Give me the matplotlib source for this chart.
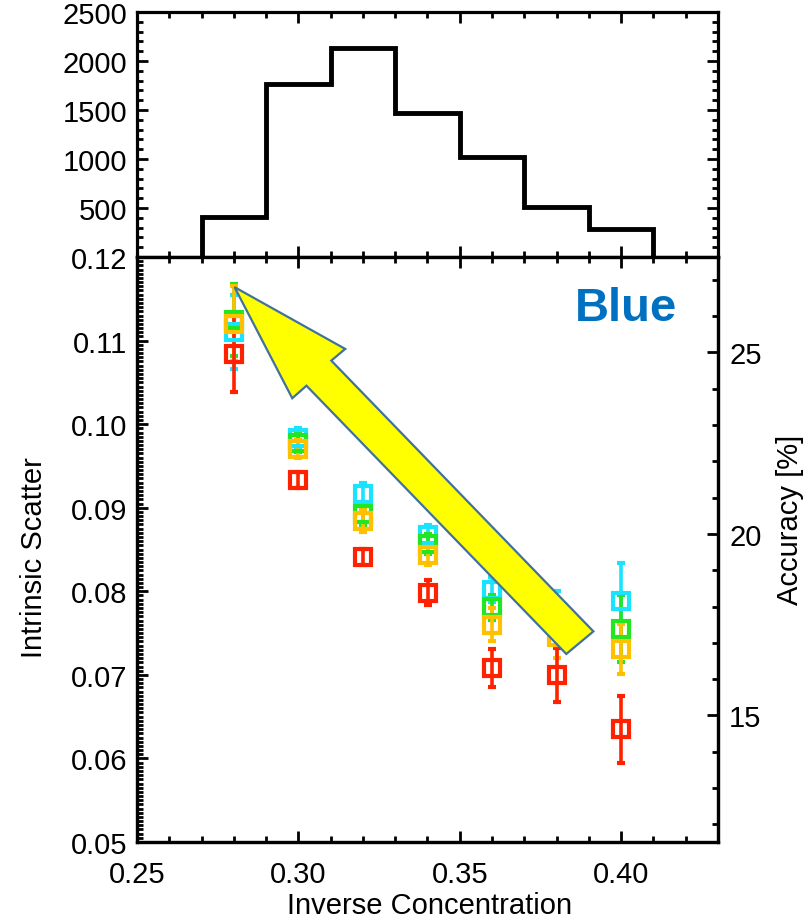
import numpy as np
import matplotlib
matplotlib.use("Agg")
import matplotlib.pyplot as plt
from matplotlib.patches import Polygon
from matplotlib.ticker import MultipleLocator, FixedLocator, FormatStrFormatter

plt.rcParams['font.family'] = ['Liberation Sans', 'DejaVu Sans']

# ---- data ----
hist_edges = [0.27, 0.29, 0.31, 0.33, 0.35, 0.37, 0.39, 0.41]
hist_counts = [410, 1770, 2135, 1470, 1020, 510, 290]

conc = [0.28, 0.30, 0.32, 0.34, 0.36, 0.38, 0.40]
cyan_val = [0.1110, 0.0983, 0.0916, 0.0867, 0.0802, 0.0775, 0.0788]
cyan_err = [0.0044, 0.0012, 0.0014, 0.0012, 0.0015, 0.0025, 0.0046]
green_val = [0.1125, 0.0978, 0.0893, 0.0857, 0.0781, 0.0760, 0.0755]
green_err = [0.0043, 0.0011, 0.0014, 0.0012, 0.0015, 0.0025, 0.0040]
orange_val = [0.1120, 0.0970, 0.0884, 0.0843, 0.0760, 0.0745, 0.0731]
orange_err = [0.0045, 0.0011, 0.0013, 0.0012, 0.0020, 0.0025, 0.0030]
red_val = [0.1084, 0.0933, 0.0841, 0.0798, 0.0708, 0.0700, 0.0635]
red_err = [0.0045, 0.0010, 0.0010, 0.0015, 0.0023, 0.0032, 0.0040]

series = [
    (cyan_val, cyan_err, '#19E3FF'),
    (green_val, green_err, '#22E622'),
    (orange_val, orange_err, '#FFC000'),
    (red_val, red_err, '#FF2200'),
]

hist_yticks = [500, 1000, 1500, 2000, 2500]
scatter_yticks = [0.05, 0.06, 0.07, 0.08, 0.09, 0.10, 0.11, 0.12]
x_ticks = [0.25, 0.30, 0.35, 0.40]
acc_ticks = [15, 20, 25]
acc_factor = 100 * np.log(10)

# arrow outline (data coords of lower panel)
arrow_x = [0.2802, 0.3145, 0.3102, 0.3914, 0.3830, 0.3025, 0.2981]
arrow_y = [0.1164, 0.1090, 0.1076, 0.0752, 0.0725, 0.1046, 0.1031]

W, H = 810, 920
fig = plt.figure(figsize=(W / 100, H / 100), dpi=100)

L, R = 137 / W, 718 / W
ax_top = fig.add_axes([L, 1 - 258 / H, R - L, 245 / H])
ax = fig.add_axes([L, 1 - 843 / H, R - L, 585 / H])

xlim = (0.25, 0.43)
spine_lw = 2.3
fs = 21

def style(a):
    for s in a.spines.values():
        s.set_linewidth(spine_lw)
    a.tick_params(which='both', direction='in', width=2.0, labelsize=fs)
    a.tick_params(which='major', length=8)
    a.tick_params(which='minor', length=4)

# ---- top histogram ----
ax_top.stairs(hist_counts, hist_edges, baseline=0, color='black', lw=3.5)
ax_top.set_xlim(*xlim)
ax_top.set_ylim(0, 2500)
ax_top.yaxis.set_major_locator(FixedLocator(hist_yticks))
ax_top.yaxis.set_minor_locator(MultipleLocator(100))
ax_top.xaxis.set_major_locator(FixedLocator(x_ticks))
ax_top.xaxis.set_minor_locator(MultipleLocator(0.01))
style(ax_top)
ax_top.tick_params(which='both', top=True, right=True, labelbottom=False)
ax_top.tick_params(axis='y', pad=7)

# ---- lower panel ----
for vals, errs, col in series:
    ax.errorbar(conc, vals, yerr=errs, fmt='s', ms=12, mfc='none', mec=col,
                mew=3.0, ecolor=col, elinewidth=2.6, capsize=3.0, capthick=3.5,
                zorder=3)

ax.add_patch(Polygon(list(zip(arrow_x, arrow_y)), closed=True,
                     facecolor='#FFFF00', edgecolor='#41719C', lw=1.6, zorder=5))

ax.text(0.4015, 0.1139, 'Blue', color='#0070C0', fontsize=34,
        fontweight='bold', ha='center', va='center', zorder=6)

ax.set_xlim(*xlim)
ax.set_ylim(0.05, 0.12)
ax.xaxis.set_major_locator(FixedLocator(x_ticks))
ax.xaxis.set_minor_locator(MultipleLocator(0.01))
ax.xaxis.set_major_formatter(FormatStrFormatter('%.2f'))
ax.yaxis.set_major_locator(FixedLocator(scatter_yticks))
ax.yaxis.set_minor_locator(MultipleLocator(0.0005))
ax.yaxis.set_major_formatter(FormatStrFormatter('%.2f'))
style(ax)
ax.tick_params(which='both', top=True, right=False)
ax.tick_params(axis='x', pad=13)
ax.tick_params(axis='y', pad=7)

ax2 = ax.twinx()
ax2.set_ylim(0.05 * acc_factor, 0.12 * acc_factor)
ax2.yaxis.set_major_locator(FixedLocator(acc_ticks))
ax2.yaxis.set_minor_locator(MultipleLocator(1))
style(ax2)
ax2.tick_params(axis='y', pad=8)

fig.text(430 / W, 1 - 906 / H, 'Inverse Concentration', fontsize=fs,
         ha='center', va='center')
fig.text(34 / W, 1 - 558 / H, 'Intrinsic Scatter', fontsize=fs,
         ha='center', va='center', rotation=90)
fig.text(790 / W, 1 - 520 / H, 'Accuracy [%]', fontsize=fs,
         ha='center', va='center', rotation=90)

fig.savefig('out.png', dpi=100)
